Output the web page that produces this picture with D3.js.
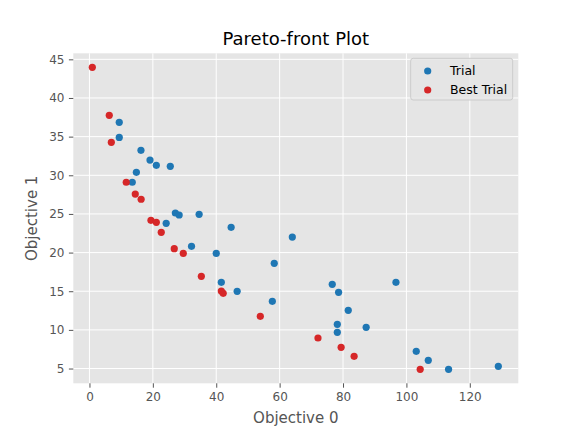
<!DOCTYPE html>
<html>
<head>
<meta charset="utf-8">
<script src="https://cdn.jsdelivr.net/npm/d3@7"></script>
<style>
  body { margin: 0; background: #fff; }
  svg { display: block; font-family: "DejaVu Sans", sans-serif; }
</style>
</head>
<body>
<svg id="chart" width="576" height="432"></svg>
<script>
// trial points (blue)
let trialX = [9.4, 9.4, 16.25, 19.1, 21.1, 25.5, 14.8, 13.5, 27.1, 28.3, 34.6, 24.2, 44.7, 64.0,
    32.2, 40.0, 58.3, 41.6, 46.6, 57.7, 76.6, 78.6, 96.7, 81.65, 78.2, 87.3, 78.2, 103.1, 106.9, 113.3, 129.0];
let trialY = [36.85, 34.9, 33.23, 31.97, 31.29, 31.16, 30.38, 29.1, 25.12, 24.86, 24.95, 23.78, 23.27, 22.0,
    20.81, 19.9, 18.61, 16.15, 14.99, 13.69, 15.9, 14.86, 16.15, 12.53, 10.72, 10.33, 9.68, 7.23, 6.06, 4.9, 5.28];

// pareto-front points (red)
let bestX = [0.9, 6.25, 6.9, 11.6, 14.45, 16.3, 19.4, 21.1, 22.65, 26.75, 29.6, 35.3, 41.6, 42.2, 53.9, 72.1, 79.4, 83.5, 104.35];
let bestY = [43.97, 37.76, 34.26, 29.1, 27.57, 26.9, 24.17, 23.91, 22.62, 20.5, 19.9, 16.93, 15.03, 14.73, 11.75, 8.95, 7.74, 6.58, 4.9];

let xTicks = [0, 20, 40, 60, 80, 100, 120];
let yTicks = [5, 10, 15, 20, 25, 30, 35, 40, 45];

let seriesNames = ["Trial", "Best Trial"];
let seriesColors = ["#1f77b4", "#d62728"];

let svg = d3.select("#chart"),
    margin = {top: 53.3, right: 57.7, bottom: 48.7, left: 73.3},
    width = +svg.attr("width") - margin.left - margin.right,
    height = +svg.attr("height") - margin.top - margin.bottom,
    g = svg.append("g").attr("transform", "translate(" + margin.left + "," + margin.top + ")");

let x = d3.scaleLinear().domain([-5.1, 135.3]).range([0, width]);
let y = d3.scaleLinear().domain([3.09, 45.78]).range([height, 0]);

g.append("rect")
    .attr("width", width)
    .attr("height", height)
    .attr("fill", "#e5e5e5");

// grid
g.append("g")
    .selectAll("line")
    .data(xTicks)
    .enter().append("line")
    .attr("x1", d => x(d)).attr("x2", d => x(d))
    .attr("y1", 0).attr("y2", height)
    .attr("stroke", "#fff").attr("stroke-width", 1);

g.append("g")
    .selectAll("line")
    .data(yTicks)
    .enter().append("line")
    .attr("y1", d => y(d)).attr("y2", d => y(d))
    .attr("x1", 0).attr("x2", width)
    .attr("stroke", "#fff").attr("stroke-width", 1);

// axes
let xAxis = g.append("g")
    .attr("transform", "translate(0," + height + ")")
    .call(d3.axisBottom(x).tickValues(xTicks).tickSize(4.4).tickPadding(4.5).tickFormat(d3.format("d")));
let yAxis = g.append("g")
    .call(d3.axisLeft(y).tickValues(yTicks).tickSize(4.4).tickPadding(4.5).tickFormat(d3.format("d")));

[xAxis, yAxis].forEach(a => {
    a.attr("font-size", null).attr("font-family", null);
    a.select(".domain").remove();
    a.selectAll(".tick line").attr("stroke", "#555555").attr("stroke-width", 1);
    a.selectAll(".tick text")
        .attr("fill", "#555555")
        .style("font-size", "12px")
        .style("font-family", "DejaVu Sans");
});

// points
g.append("g")
    .selectAll("circle")
    .data(d3.zip(trialX, trialY))
    .enter().append("circle")
    .attr("cx", d => x(d[0]))
    .attr("cy", d => y(d[1]))
    .attr("r", 3.6)
    .attr("fill", seriesColors[0]);

g.append("g")
    .selectAll("circle")
    .data(d3.zip(bestX, bestY))
    .enter().append("circle")
    .attr("cx", d => x(d[0]))
    .attr("cy", d => y(d[1]))
    .attr("r", 3.6)
    .attr("fill", seriesColors[1]);

// labels
svg.append("text")
    .attr("x", margin.left + width / 2)
    .attr("y", 45)
    .attr("text-anchor", "middle")
    .attr("font-size", "18px")
    .attr("fill", "#000")
    .text("Pareto-front Plot");

svg.append("text")
    .attr("x", margin.left + width / 2)
    .attr("y", 422.5)
    .attr("text-anchor", "middle")
    .attr("font-size", "15px")
    .attr("fill", "#555555")
    .text("Objective 0");

svg.append("text")
    .attr("transform", "translate(36.5," + (margin.top + height / 2) + ") rotate(-90)")
    .attr("text-anchor", "middle")
    .attr("font-size", "15px")
    .attr("fill", "#555555")
    .text("Objective 1");

// legend
let legend = svg.append("g").attr("transform", "translate(410.7,58.3)");
legend.append("rect")
    .attr("width", 102)
    .attr("height", 41.7)
    .attr("rx", 2.5)
    .attr("fill", "#e5e5e5")
    .attr("fill-opacity", 0.8)
    .attr("stroke", "#cccccc")
    .attr("stroke-width", 1);

let items = legend.selectAll("g.item")
    .data(seriesNames)
    .enter().append("g")
    .attr("class", "item")
    .attr("transform", (d, i) => "translate(0," + (12.7 + i * 19) + ")");

items.append("circle")
    .attr("cx", 17)
    .attr("cy", 0)
    .attr("r", 3.6)
    .attr("fill", (d, i) => seriesColors[i]);

items.append("text")
    .attr("x", 39.3)
    .attr("y", 4.4)
    .attr("font-size", "12.5px")
    .attr("fill", "#000")
    .text(d => d);
</script>
</body>
</html>
